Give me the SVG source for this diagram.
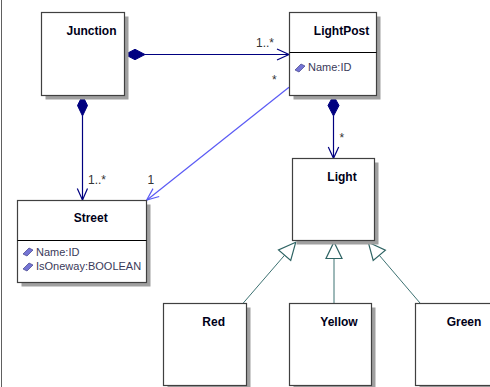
<svg xmlns="http://www.w3.org/2000/svg" width="490" height="387" viewBox="0 0 490 387">
  <style>
    .box { fill: #ffffff; stroke: #404040; stroke-width: 1.2; }
    .shadow { fill: #a0a0a0; }
    .div { stroke: #000000; stroke-width: 1; }
    .title { font-family: "Liberation Sans", Arial, sans-serif; font-size: 12px; font-weight: bold; fill: #000018; text-anchor: middle; }
    .attr { font-family: "Liberation Sans", Arial, sans-serif; font-size: 11px; fill: #3a3a5a; }
    .mult { font-family: "Liberation Sans", Arial, sans-serif; font-size: 12px; fill: #333333; }
    .assoc { fill: none; stroke: #000080; stroke-width: 1.2; }
    .assoc2 { fill: none; stroke: #5a5af5; stroke-width: 1.2; }
    .diamond { fill: #000080; stroke: #000080; stroke-width: 1; }
    .gen { fill: none; stroke: #3d7272; stroke-width: 1; }
    .genhead { fill: #ffffff; stroke: #2f6464; stroke-width: 1.2; }
  </style>
  <defs>
    <g id="attr-icon">
      <polygon points="0,7 6,1 10,3 4,9" fill="#7474d4" stroke="#404088" stroke-width="0.7"/>
    </g>
  </defs>

  <rect width="490" height="387" fill="#ffffff"/>
  <!-- frame edge -->
  <line x1="1.5" y1="0" x2="1.5" y2="387" stroke="#606060" stroke-width="1"/>

  <!-- connectors -->
  <g id="connectors">
    <!-- Junction -> LightPost -->
    <line class="assoc" x1="145" y1="54.5" x2="289" y2="54.5"/>
    <polygon class="diamond" points="125,54.5 135,49.3 145,54.5 135,59.7"/>
    <polyline class="assoc" points="277,49 289,54.5 277,60"/>
    <text class="mult" x="256" y="47">1..*</text>

    <!-- Junction -> Street -->
    <line class="assoc" x1="82.5" y1="116" x2="82.5" y2="200"/>
    <polygon class="diamond" points="82.5,95.5 77.5,105.5 82.5,116 87.5,105.5"/>
    <polyline class="assoc" points="77.3,188.5 82.5,200 87.5,188.5"/>
    <text class="mult" x="88" y="184">1..*</text>

    <!-- LightPost -> Street -->
    <line class="assoc2" x1="289" y1="87.3" x2="147" y2="200"/>
    <polyline class="assoc2" points="159.2,196.5 146.7,200 153,188.6"/>
    <text class="mult" x="272" y="84">*</text>
    <text class="mult" x="147.5" y="184">1</text>

    <!-- LightPost -> Light -->
    <line class="assoc" x1="333.5" y1="116" x2="333.5" y2="158"/>
    <polygon class="diamond" points="333.5,95.5 328,105.5 333.5,116 339,105.5"/>
    <polyline class="assoc" points="328.3,147 333.5,158.3 338.7,147"/>
    <text class="mult" x="339.5" y="142">*</text>

    <!-- generalizations to Light -->
    <line class="gen" x1="243.3" y1="303" x2="284.6" y2="255.2"/>
    <polygon class="genhead" points="295.7,242.3 290.7,260.4 278.5,250"/>
    <line class="gen" x1="334" y1="303" x2="334" y2="258.5"/>
    <polygon class="genhead" points="334,242 342,258.5 326,258.5"/>
    <line class="gen" x1="420" y1="303" x2="379.3" y2="255.3"/>
    <polygon class="genhead" points="368.3,242.3 385.4,250.1 373.2,260.5"/>
  </g>

  <!-- nodes -->
  <g id="junction">
    <rect class="shadow" x="45.5" y="16.5" width="83" height="83"/>
    <rect class="box" x="41.5" y="12.5" width="83" height="83"/>
    <text class="title" x="91.5" y="35">Junction</text>
  </g>

  <g id="lightpost">
    <rect class="shadow" x="293.5" y="16.5" width="87" height="83"/>
    <rect class="box" x="289.5" y="12.5" width="87" height="83"/>
    <line class="div" x1="289.5" y1="52.5" x2="376.5" y2="52.5"/>
    <text class="title" x="341.5" y="35">LightPost</text>
    <use href="#attr-icon" x="295" y="63"/>
    <text class="attr" x="308" y="71">Name:ID</text>
  </g>

  <g id="street">
    <rect class="shadow" x="21.5" y="204.5" width="129" height="82"/>
    <rect class="box" x="17.5" y="200.5" width="129" height="82"/>
    <line class="div" x1="17.5" y1="240.5" x2="146.5" y2="240.5"/>
    <text class="title" x="90.7" y="222">Street</text>
    <use href="#attr-icon" x="23" y="247"/>
    <text class="attr" x="36" y="256">Name:ID</text>
    <use href="#attr-icon" x="23" y="262"/>
    <text class="attr" x="36" y="270">IsOneway:BOOLEAN</text>
  </g>

  <g id="light">
    <rect class="shadow" x="296.5" y="162.5" width="82" height="82"/>
    <rect class="box" x="292.5" y="158.5" width="82" height="82"/>
    <text class="title" x="342" y="181">Light</text>
  </g>

  <g id="red">
    <rect class="shadow" x="167.5" y="307.5" width="83" height="82"/>
    <rect class="box" x="163.5" y="303.5" width="83" height="82"/>
    <text class="title" x="213.7" y="325.5">Red</text>
  </g>

  <g id="yellow">
    <rect class="shadow" x="293.5" y="307.5" width="82" height="82"/>
    <rect class="box" x="289.5" y="303.5" width="82" height="82"/>
    <text class="title" x="339" y="325.5">Yellow</text>
  </g>

  <g id="green">
    <rect class="shadow" x="419.5" y="307.5" width="82" height="82"/>
    <rect class="box" x="415.5" y="303.5" width="82" height="82"/>
    <text class="title" x="464" y="325.5">Green</text>
  </g>
</svg>
